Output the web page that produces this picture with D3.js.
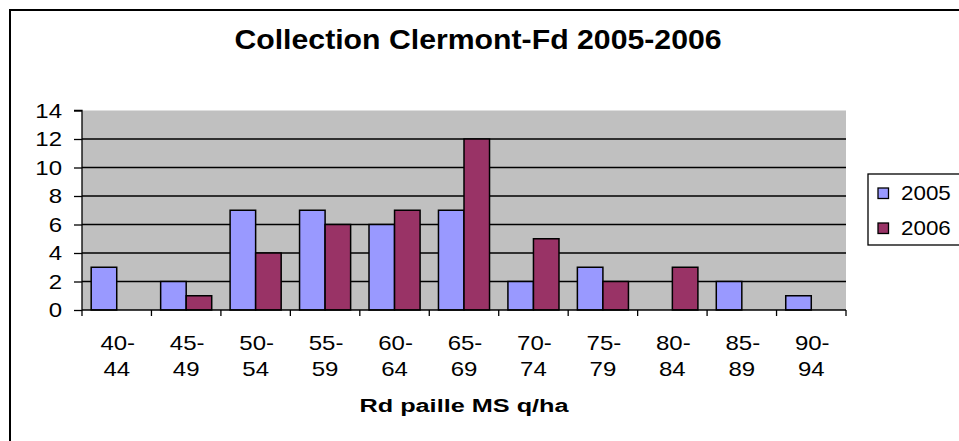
<!DOCTYPE html>
<html><head><meta charset="utf-8">
<script src="https://cdn.jsdelivr.net/npm/d3@7"></script>
<style>body{margin:0;background:#fff}svg{display:block;font-family:"Liberation Sans",Arial,sans-serif}</style>
</head><body><svg id="c" width="959" height="441"></svg>
<script>
const categories = ["40-44","45-49","50-54","55-59","60-64","65-69","70-74","75-79","80-84","85-89","90-94"];
const seriesNames = ["2005","2006"];
const values2005 = [3,2,7,7,6,7,2,3,0,2,1];
const values2006 = [0,1,4,6,7,12,5,2,3,0,0];
const yTicks = [0,2,4,6,8,10,12,14];
const colors = ["#9999ff","#993366"];
const title = "Collection Clermont-Fd 2005-2006";
const xTitle = "Rd paille MS q/ha";

const svg = d3.select("#c");
function txt(parent, x, y, s, size, anchor, sx, bold){
  return parent.append("text").attr("transform",`translate(${x},${y}) scale(${sx},1)`)
    .attr("text-anchor",anchor).attr("font-size",size).attr("fill","#000")
    .attr("font-weight",bold?"bold":"normal").text(s);
}
svg.append("rect").attr("x",10).attr("y",10).attr("width",960).attr("height",440)
  .attr("fill","#fff").attr("stroke","#000").attr("stroke-width",2);

const L=82,R=846,T=110.5,B=310;
const x = d3.scaleBand().domain(categories).range([L,R]).paddingInner(0).paddingOuter(0);
const y = d3.scaleLinear().domain([0,14]).range([B,T]);
const xs = d3.scaleBand().domain(seriesNames).range([0,x.bandwidth()]).paddingInner(0).paddingOuter(0.36);

svg.append("rect").attr("x",L).attr("y",T).attr("width",R-L).attr("height",B-T).attr("fill","#c0c0c0");
svg.append("g").selectAll("line").data(yTicks.filter(d=>d>0&&d<14)).join("line")
  .attr("x1",L).attr("x2",R).attr("y1",d=>y(d)).attr("y2",d=>y(d)).attr("stroke","#000").attr("stroke-width",1.3);

const data = categories.map((c,i)=>({c, v:[values2005[i],values2006[i]]}));
const g = svg.append("g");
data.forEach(d=>{
  d.v.forEach((v,k)=>{
    if(v<=0) return;
    g.append("rect").attr("x",x(d.c)+xs(seriesNames[k])).attr("y",y(v))
      .attr("width",xs.bandwidth()).attr("height",y(0)-y(v))
      .attr("fill",colors[k]).attr("stroke","#000").attr("stroke-width",1.5);
  });
});

// y axis
const ya = svg.append("g").attr("transform",`translate(${L},0)`)
  .call(d3.axisLeft(y).tickValues(yTicks).tickSize(8).tickFormat(""));
ya.select(".domain").attr("stroke","#000").attr("stroke-width",1.3).attr("d",`M-8,${T}H0V${B}`);
ya.selectAll(".tick line").attr("stroke-width",1.3);
yTicks.forEach(t=>txt(svg, 62, y(t)+7, String(t), 20, "end", 1.2, false));

// x axis
const xa = svg.append("g").attr("transform",`translate(0,${B})`);
xa.append("line").attr("x1",L).attr("x2",R).attr("stroke","#000").attr("stroke-width",1.3);
const bounds = categories.map(c=>x(c)).concat([R]);
xa.selectAll("line.t").data(bounds).join("line").attr("class","t")
  .attr("x1",d=>d).attr("x2",d=>d).attr("y1",0).attr("y2",6).attr("stroke","#000").attr("stroke-width",1.3);
categories.forEach(c=>{
  const parts = c.split("-");
  const cx = x(c)+x.bandwidth()/2;
  txt(svg, cx+1, B+40, parts[0]+"-", 20, "middle", 1.2, false);
  txt(svg, cx, B+66, parts[1], 20, "middle", 1.2, false);
});

txt(svg, (L+R)/2, 412, xTitle, 19, "middle", 1.33, true);
txt(svg, 478, 49, title, 27, "middle", 1.12, true);

// legend
const lg = svg.append("g");
lg.append("rect").attr("x",868).attr("y",174).attr("width",100).attr("height",71)
  .attr("fill","#fff").attr("stroke","#000").attr("stroke-width",1.3);
seriesNames.forEach((s,k)=>{
  const cy = 193 + k*35;
  lg.append("rect").attr("x",878).attr("y",cy-5).attr("width",10.5).attr("height",10.5)
    .attr("fill",colors[k]).attr("stroke","#000").attr("stroke-width",1.3);
  txt(lg, 901, cy+6.5, s, 20, "start", 1.12, false);
});
</script></body></html>
